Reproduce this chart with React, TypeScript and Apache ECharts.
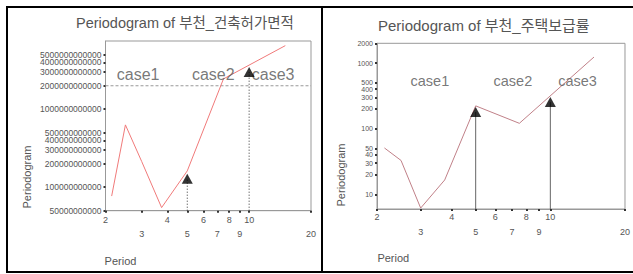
import React, { useEffect, useRef } from 'react';
import * as echarts from 'echarts';

// Fourier periods (n = 15)
const periods = [15 / 7, 2.5, 3, 3.75, 5, 7.5, 15];
// Periodogram of 부천_건축허가면적
const leftValues = [7.7e10, 6.3e11, 2.14e11, 5.48e10, 1.62e11, 2.45e12, 6.54e12];
// Periodogram of 부천_주택보급률
const rightValues = [51, 32.9, 6.2, 16.6, 223, 121, 1236];

const xTicks = [2, 3, 4, 5, 6, 7, 8, 9, 10, 20];
const xLabelsRow1 = [2, 4, 6, 8, 10];
const xLabelsRow2 = [3, 5, 7, 9, 20];
const leftYTicks = [5e10, 1e11, 2e11, 3e11, 4e11, 5e11, 1e12, 2e12, 3e12, 4e12, 5e12];
const rightYTicks = [10, 20, 30, 40, 50, 100, 200, 300, 400, 500, 1000, 2000];

const markerPeriods = [5, 10];
const leftMarkerValues = [1.28e11, 3.0e12];
const rightMarkerValues = [180, 255];
const leftRefValue = 2e12;

const caseNames = ['case1', 'case2', 'case3'];
const leftCasePeriods = [2.27, 5.27, 10.3];
const leftCaseValue = 2.75e12;
const rightCasePeriods = [2.73, 5.9, 10.76];
const rightCaseValue = 533;

const leftTitle = 'Periodogram of 부천_건축허가면적';
const rightTitle = 'Periodogram of 부천_주택보급률';

const L = Math.log10;
const FONT = '"Liberation Sans", Arial, "Noto Sans CJK KR", sans-serif';

const fmt = (list: number[]) => (v: number) => {
  const t = list.find((x) => Math.abs(L(x) - v) < 1e-6);
  return t === undefined ? '' : String(t);
};

function xAxes(grid: number, m1: number, m2: number) {
  const base = {
    type: 'value' as const,
    gridIndex: grid,
    position: 'bottom' as const,
    min: L(2),
    max: L(20),
    splitLine: { show: false },
  };
  return [
    {
      ...base,
      axisLine: { show: true, lineStyle: { color: '#999', width: 1 } },
      axisTick: { show: true, customValues: xTicks.map(L), length: 2, lineStyle: { color: '#333', width: 2 } },
      axisLabel: {
        customValues: xLabelsRow1.map(L),
        formatter: fmt(xTicks),
        margin: m1,
        fontSize: 9,
        color: '#555',
        fontFamily: FONT,
        showMinLabel: true,
        showMaxLabel: true,
      },
    },
    {
      ...base,
      axisLine: { show: false },
      axisTick: { show: false },
      axisLabel: {
        customValues: xLabelsRow2.map(L),
        formatter: fmt(xTicks),
        margin: m2,
        fontSize: 9,
        color: '#555',
        fontFamily: FONT,
        showMinLabel: true,
        showMaxLabel: true,
      },
    },
  ];
}

function yAxis(grid: number, min: number, max: number, ticks: number[], fs: number) {
  // an empty label at the axis max keeps the top tick label from being dropped
  const labelValues = ticks.map(L);
  if (ticks[ticks.length - 1] < max) labelValues.push(L(max));
  return {
    type: 'value' as const,
    gridIndex: grid,
    position: 'left' as const,
    min: L(min),
    max: L(max),
    splitLine: { show: false },
    axisLine: { show: true, lineStyle: { color: '#999', width: 1 } },
    axisTick: { show: true, customValues: ticks.map(L), length: 2, lineStyle: { color: '#333', width: 2 } },
    axisLabel: {
      customValues: labelValues,
      formatter: fmt(ticks),
      margin: 4,
      fontSize: fs,
      color: '#555',
      fontFamily: FONT,
      hideOverlap: false,
    },
  };
}

export default function App() {
  const ref = useRef<HTMLDivElement>(null);
  useEffect(() => {
    if (!ref.current) return;
    const chart = echarts.init(ref.current, null, { renderer: 'svg' });
    const leftMin = 5e10;
    const leftMax = 7.5e12;
    const rightMin = 6;
    const rightMax = 2000;

    const series: any[] = [];
    // left panel
    series.push({
      type: 'line',
      xAxisIndex: 0,
      yAxisIndex: 0,
      data: periods.map((p, i) => [L(p), L(leftValues[i])]),
      showSymbol: false,
      lineStyle: { color: '#f07a7a', width: 1 },
      z: 3,
    });
    series.push({
      type: 'line',
      xAxisIndex: 0,
      yAxisIndex: 0,
      data: [
        [L(2), L(leftRefValue)],
        [L(20), L(leftRefValue)],
      ],
      showSymbol: false,
      lineStyle: { color: '#999', width: 1, type: [3, 2] },
      z: 2,
    });
    markerPeriods.forEach((p, i) => {
      series.push({
        type: 'line',
        xAxisIndex: 0,
        yAxisIndex: 0,
        data: [
          [L(p), L(leftMin)],
          [L(p), L(leftMarkerValues[i])],
        ],
        showSymbol: false,
        lineStyle: { color: '#333', width: 1, type: [1, 2] },
        z: 2,
      });
    });
    series.push({
      type: 'scatter',
      xAxisIndex: 0,
      yAxisIndex: 0,
      symbol: 'triangle',
      symbolSize: [11, 10],
      itemStyle: { color: '#000' },
      data: markerPeriods.map((p, i) => [L(p), L(leftMarkerValues[i])]),
      z: 5,
    });
    series.push({
      type: 'scatter',
      xAxisIndex: 0,
      yAxisIndex: 0,
      symbolSize: 0,
      data: leftCasePeriods.map((p, i) => ({ value: [L(p), L(leftCaseValue)], name: caseNames[i] })),
      label: {
        show: true,
        position: [0, 0],
        align: 'left',
        verticalAlign: 'middle',
        formatter: (d: any) => d.name,
        fontSize: 16,
        color: '#555',
        fontFamily: FONT,
      },
      z: 4,
    });

    // right panel
    series.push({
      type: 'line',
      xAxisIndex: 2,
      yAxisIndex: 1,
      data: periods.map((p, i) => [L(p), L(rightValues[i])]),
      showSymbol: false,
      lineStyle: { color: '#c08088', width: 1 },
      z: 3,
    });
    markerPeriods.forEach((p, i) => {
      series.push({
        type: 'line',
        xAxisIndex: 2,
        yAxisIndex: 1,
        data: [
          [L(p), L(rightMin)],
          [L(p), L(rightMarkerValues[i])],
        ],
        showSymbol: false,
        lineStyle: { color: '#666', width: 1 },
        z: 2,
      });
    });
    series.push({
      type: 'scatter',
      xAxisIndex: 2,
      yAxisIndex: 1,
      symbol: 'triangle',
      symbolSize: [11, 10],
      itemStyle: { color: '#000' },
      data: markerPeriods.map((p, i) => [L(p), L(rightMarkerValues[i])]),
      z: 5,
    });
    series.push({
      type: 'scatter',
      xAxisIndex: 2,
      yAxisIndex: 1,
      symbolSize: 0,
      data: rightCasePeriods.map((p, i) => ({ value: [L(p), L(rightCaseValue)], name: caseNames[i] })),
      label: {
        show: true,
        position: [0, 0],
        align: 'left',
        verticalAlign: 'middle',
        formatter: (d: any) => d.name,
        fontSize: 14.5,
        color: '#555',
        fontFamily: FONT,
      },
      z: 4,
    });

    const border = { stroke: '#000', lineWidth: 2 };
    chart.setOption({
      animation: false,
      backgroundColor: '#fff',
      title: [
        {
          text: leftTitle,
          left: 76,
          top: 16,
          padding: 0,
          textStyle: { fontSize: 14.5, fontWeight: 'normal', color: '#555', fontFamily: FONT },
        },
        {
          text: rightTitle,
          left: 378,
          top: 18,
          padding: 0,
          textStyle: { fontSize: 15, fontWeight: 'normal', color: '#555', fontFamily: FONT },
        },
      ],
      grid: [
        { left: 105.5, top: 41, width: 205.5, height: 169.7, show: true, borderColor: '#999', borderWidth: 1, backgroundColor: 'transparent' },
        { left: 377, top: 43.3, width: 249, height: 165.7, show: true, borderColor: '#999', borderWidth: 1, backgroundColor: 'transparent' },
      ],
      xAxis: [...xAxes(0, 5, 19), ...xAxes(1, 3.5, 18.5)],
      yAxis: [yAxis(0, leftMin, leftMax, leftYTicks, 8.5), yAxis(1, rightMin, rightMax, rightYTicks, 7)],
      series,
      graphic: [
        { type: 'line', shape: { x1: 7, y1: 6, x2: 7, y2: 273 }, style: border, silent: true },
        { type: 'line', shape: { x1: 6, y1: 7, x2: 633, y2: 7 }, style: border, silent: true },
        { type: 'line', shape: { x1: 322, y1: 6, x2: 322, y2: 273 }, style: border, silent: true },
        { type: 'line', shape: { x1: 6, y1: 272, x2: 633, y2: 272 }, style: border, silent: true },
        {
          type: 'text',
          x: 26.7,
          y: 177,
          rotation: Math.PI / 2,
          style: { text: 'Periodogram', fontSize: 11, fill: '#555', fontFamily: FONT, align: 'center', verticalAlign: 'middle' },
        },
        {
          type: 'text',
          x: 340.7,
          y: 175,
          rotation: Math.PI / 2,
          style: { text: 'Periodogram', fontSize: 11, fill: '#555', fontFamily: FONT, align: 'center', verticalAlign: 'middle' },
        },
        {
          type: 'text',
          x: 120.5,
          y: 261,
          style: { text: 'Period', fontSize: 11, fill: '#555', fontFamily: FONT, align: 'center', verticalAlign: 'middle' },
        },
        {
          type: 'text',
          x: 393.3,
          y: 258.3,
          style: { text: 'Period', fontSize: 11, fill: '#555', fontFamily: FONT, align: 'center', verticalAlign: 'middle' },
        },
      ],
    });
    return () => chart.dispose();
  }, []);
  return (
    <div
      ref={ref}
      style={{ position: 'fixed', left: 0, top: 0, width: 633, height: 274, background: '#fff' }}
    />
  );
}
